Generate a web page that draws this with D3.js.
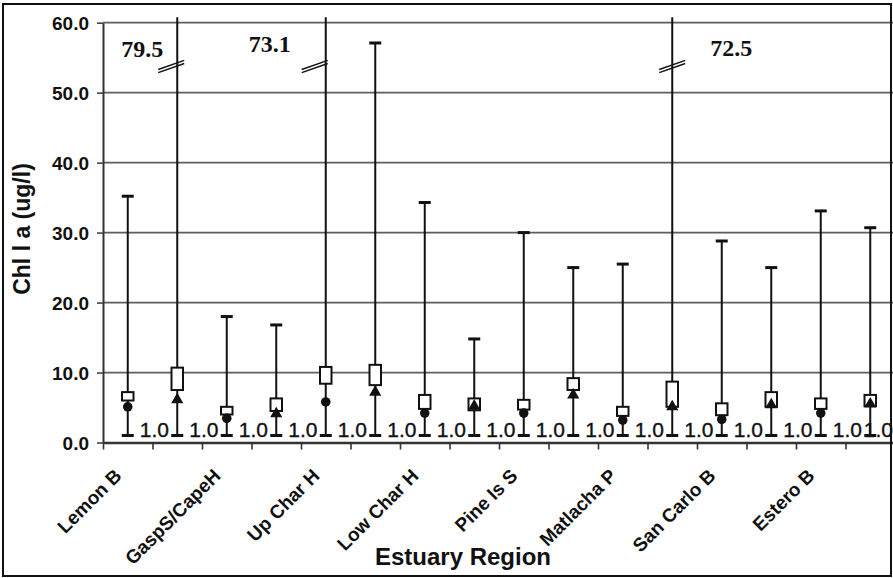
<!DOCTYPE html>
<html>
<head>
<meta charset="utf-8">
<script src="https://cdn.jsdelivr.net/npm/d3@7/dist/d3.min.js"></script>
<style>
  body { margin: 0; background: #fff; }
  svg { display: block; }
</style>
</head>
<body>
<svg id="chart" width="893" height="578"></svg>
<script>
// Chlorophyll a by estuary region: two sampling series per region.
const regions = ["Lemon B", "GaspS/CapeH", "Up Char H", "Low Char H",
                 "Pine Is S", "Matlacha P", "San Carlo B", "Estero B"];

// Series 1 (circle marker)
const min1 = [1.0, 1.0, 1.0, 1.0, 1.0, 1.0, 1.0, 1.0];
const q1s1 = [6.0, 4.0, 8.4, 4.8, 4.7, 3.8, 3.9, 4.8];
const q3s1 = [7.2, 5.1, 10.8, 6.8, 6.1, 5.1, 5.6, 6.3];
const mid1 = [5.1, 3.45, 5.8, 4.2, 4.2, 3.2, 3.3, 4.2];
const max1 = [35.2, 18.0, 73.1, 34.3, 30.0, 25.5, 28.8, 33.1];

// Series 2 (triangle marker)
const min2 = [1.0, 1.0, 1.0, 1.0, 1.0, 1.0, 1.0, 1.0];
const q1s2 = [7.5, 4.5, 8.2, 4.6, 7.5, 5.1, 5.1, 5.2];
const q3s2 = [10.7, 6.3, 11.1, 6.3, 9.2, 8.7, 7.2, 6.8];
const mid2 = [6.1, 4.1, 7.2, 5.2, 6.8, 5.1, 5.4, 5.5];
const max2 = [79.5, 16.8, 57.1, 14.8, 25.0, 72.5, 25.0, 30.7];

const yTicks = [0, 10, 20, 30, 40, 50, 60];
const yTitle = "Chl l a (ug/l)";
const xTitle = "Estuary Region";

// One column per region and series, in plotting order.
const columns = [];
regions.forEach((r, i) => {
  columns.push({ region: r, series: 0, min: min1[i], q1: q1s1[i], q3: q3s1[i], mid: mid1[i], max: max1[i] });
  columns.push({ region: r, series: 1, min: min2[i], q1: q1s2[i], q3: q3s2[i], mid: mid2[i], max: max2[i] });
});
columns.forEach((d, i) => d.index = i);

const W = 893, H = 578;
const plot = { left: 103, right: 895, top: 22.7, bottom: 442.5 };

const svg = d3.select("#chart");
svg.append("rect").attr("width", W).attr("height", H).attr("fill", "#fff");

const x = d3.scaleBand().domain(columns.map(d => d.index)).range([plot.left, plot.right]);
const xEdge = d3.scaleLinear().domain([0, columns.length]).range([plot.left, plot.right]);
const y = d3.scaleLinear().domain([0, 60]).range([plot.bottom, plot.top]);
const cx = d => x(d.index) + x.bandwidth() / 2;

const sans = "'Liberation Sans', Arial, Helvetica, sans-serif";
const serif = "'Liberation Serif', 'Times New Roman', serif";

// Horizontal gridlines
svg.append("g")
  .selectAll("line")
  .data(yTicks.filter(t => t > 0))
  .join("line")
  .attr("x1", plot.left).attr("x2", W)
  .attr("y1", d => y(d)).attr("y2", d => y(d))
  .attr("stroke", "#5e5e5e").attr("stroke-width", 1.7);

// Y axis
const yAxis = svg.append("g")
  .attr("transform", `translate(${plot.left},0)`)
  .call(d3.axisLeft(y).tickValues(yTicks).tickFormat(d3.format(".1f")).tickSize(6).tickSizeOuter(0));
yAxis.select(".domain").attr("stroke", "#333").attr("stroke-width", 2);
yAxis.selectAll(".tick line").attr("stroke", "#444").attr("stroke-width", 1.6);
yAxis.selectAll(".tick text")
  .attr("x", -14).attr("dy", "0.36em")
  .attr("font-family", sans).attr("font-weight", "bold").attr("font-size", 19)
  .attr("fill", "#111");

// X axis with ticks at column boundaries
const xAxis = svg.append("g")
  .attr("transform", `translate(0,${plot.bottom})`)
  .call(d3.axisBottom(xEdge).tickValues(d3.range(0, columns.length + 1)).tickFormat("").tickSize(7).tickSizeOuter(0));
xAxis.select(".domain").attr("stroke", "#333").attr("stroke-width", 2.6);
xAxis.selectAll(".tick line").attr("stroke", "#333").attr("stroke-width", 1.6);

// Whiskers (values above the axis are cut at the top with a break mark)
const yCut = plot.top - 5.5;
const topY = d => d.max > 60 ? yCut : y(d.max);
const marks = svg.append("g");
marks.selectAll("line.whisker")
  .data(columns)
  .join("line")
  .attr("class", "whisker")
  .attr("x1", cx).attr("x2", cx)
  .attr("y1", d => y(d.min)).attr("y2", topY)
  .attr("stroke", "#111").attr("stroke-width", 2);

// Whisker caps
const capW = 12;
marks.selectAll("line.capMax")
  .data(columns.filter(d => d.max <= 60))
  .join("line")
  .attr("x1", d => cx(d) - capW / 2).attr("x2", d => cx(d) + capW / 2)
  .attr("y1", d => y(d.max)).attr("y2", d => y(d.max))
  .attr("stroke", "#111").attr("stroke-width", 3);
marks.selectAll("line.capMin")
  .data(columns)
  .join("line")
  .attr("x1", d => cx(d) - capW / 2).attr("x2", d => cx(d) + capW / 2)
  .attr("y1", d => y(d.min)).attr("y2", d => y(d.min))
  .attr("stroke", "#111").attr("stroke-width", 3);

// Boxes
const boxW = 11.5;
marks.selectAll("rect.box")
  .data(columns)
  .join("rect")
  .attr("x", d => cx(d) - boxW / 2)
  .attr("y", d => y(d.q3))
  .attr("width", boxW)
  .attr("height", d => y(d.q1) - y(d.q3))
  .attr("fill", "#fff").attr("stroke", "#111").attr("stroke-width", 2);

// Markers: circle for series 1, triangle for series 2
const symCircle = d3.symbol().type(d3.symbolCircle).size(72);
const symTri = d3.symbol().type(d3.symbolTriangle).size(64);
marks.selectAll("path.marker")
  .data(columns)
  .join("path")
  .attr("transform", d => `translate(${cx(d)},${y(d.mid)})`)
  .attr("d", d => d.series === 0 ? symCircle() : symTri())
  .attr("fill", "#111");

// Minimum value labels, kept inside the chart width
const minLabels = svg.append("g")
  .selectAll("text")
  .data(columns)
  .join("text")
  .attr("x", d => cx(d) + 12)
  .attr("y", d => y(d.min) + 1.5)
  .attr("font-family", sans).attr("font-size", 21).attr("fill", "#111")
  .attr("stroke", "#111").attr("stroke-width", 0.35)
  .text(d => d3.format(".1f")(d.min));
minLabels.each(function () {
  const b = this.getBBox();
  if (b.x + b.width > W) d3.select(this).attr("x", W - b.width);
});

// Break marks and true values for whiskers beyond the axis
const breakLayout = { 1: { dx: -6, lx: -14, anchor: "end", ly: 57 },
                      4: { dx: -11, lx: -35, anchor: "end", ly: 52 },
                      11: { dx: 0, lx: 38, anchor: "start", ly: 56 } };
const over = columns.filter(d => d.max > 60);
const brk = svg.append("g");
over.forEach(d => {
  const L = breakLayout[d.index] || { dx: 0, lx: 10, anchor: "start", ly: 56 };
  const bx = cx(d) + L.dx, by = 66.5;
  [-1.6, 1.6].forEach(o => {
    brk.append("line")
      .attr("x1", bx - 13).attr("y1", by + 4.6 + o)
      .attr("x2", bx + 13).attr("y2", by - 4.6 + o)
      .attr("stroke", "#111").attr("stroke-width", 1.4);
  });
  brk.append("text")
    .attr("x", cx(d) + L.lx).attr("y", L.ly)
    .attr("text-anchor", L.anchor)
    .attr("font-family", serif).attr("font-weight", "bold").attr("font-size", 24)
    .attr("fill", "#111")
    .text(d3.format(".1f")(d.max));
});

// Region labels under the first column of each region
svg.append("g")
  .selectAll("text")
  .data(columns.filter(d => d.series === 0))
  .join("text")
  .attr("transform", d => `translate(${cx(d) - 5},477) rotate(-45)`)
  .attr("text-anchor", "end")
  .attr("font-family", sans).attr("font-weight", "bold").attr("font-size", 19)
  .attr("fill", "#111")
  .text(d => d.region);

// Axis titles
svg.append("text")
  .attr("x", 463).attr("y", 565)
  .attr("text-anchor", "middle")
  .attr("font-family", sans).attr("font-weight", "bold").attr("font-size", 24)
  .attr("fill", "#111")
  .text(xTitle);

svg.append("text")
  .attr("transform", "translate(30,229) rotate(-90)")
  .attr("text-anchor", "middle")
  .attr("font-family", sans).attr("font-weight", "bold").attr("font-size", 23)
  .attr("fill", "#111")
  .text(yTitle);

// Outer frame
svg.append("rect")
  .attr("x", 3).attr("y", 4).attr("width", 888).attr("height", 572)
  .attr("fill", "none").attr("stroke", "#111").attr("stroke-width", 2);
</script>
</body>
</html>
